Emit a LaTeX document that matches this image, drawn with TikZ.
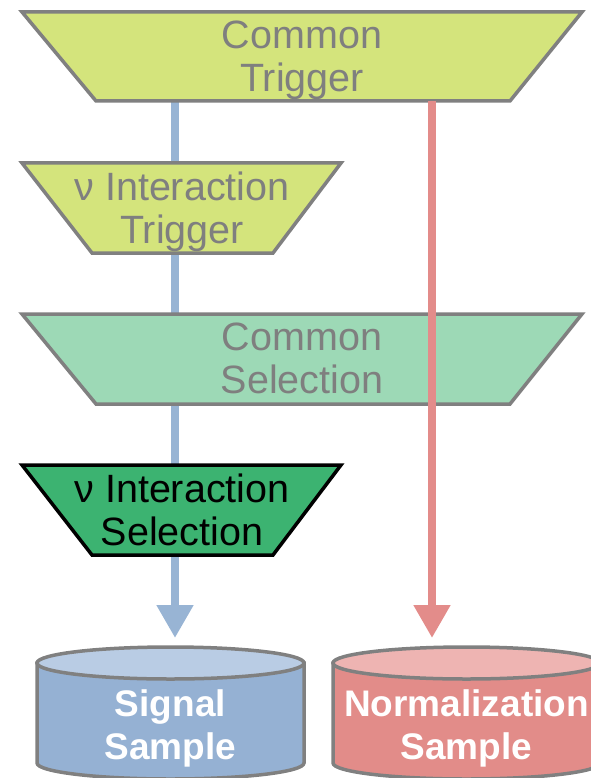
\documentclass[tikz,border=0pt]{standalone}
\usepackage{fontspec}
\setmainfont{Liberation Sans}
\usetikzlibrary{arrows.meta}

\definecolor{trigfill}{HTML}{D4E47C}
\definecolor{selfill}{HTML}{9DD9B6}
\definecolor{nuselfill}{HTML}{3CB371}
\definecolor{edgegray}{HTML}{808080}
\definecolor{textgray}{HTML}{7F7F7F}
\definecolor{sigline}{HTML}{98B4D4}
\definecolor{normline}{HTML}{E38C8A}
\definecolor{sigbody}{HTML}{95B1D3}
\definecolor{sigtop}{HTML}{B9CCE4}
\definecolor{normbody}{HTML}{E28C89}
\definecolor{normtop}{HTML}{EEB4B2}

\begin{document}
\begin{tikzpicture}[x=1pt,y=-1pt,
  stage/.style={draw=edgegray, line width=3.5pt, line join=miter},
  stagetext/.style={anchor=north, inner sep=0pt, align=center, text=textgray,
    font=\fontsize{39.5}{43}\selectfont},
  cyl/.style={draw=edgegray, line width=3.5pt},
  cyltext/.style={anchor=north, inner sep=0pt, align=center, text=white,
    font=\fontsize{37}{43}\selectfont\bfseries},
  flow/.style={line width=8pt, -{Triangle[width=35pt,length=33pt]}}]

\useasboundingbox (0,0) rectangle (590,778);

% connector end points
\coordinate (ctL) at (175,101);
\coordinate (ctR) at (432,101);
\coordinate (sigin) at (175,638);
\coordinate (normin) at (432,638);

% signal path runs behind the stages
\draw[flow, draw=sigline, fill=sigline] (ctL) -- (sigin);

% common trigger
\draw[stage, fill=trigfill] (22,12) -- (582,12) -- (510,101) -- (96,101) -- cycle;
\node[stagetext] (ct) at (302,21) {Common\\Trigger};

% neutrino interaction trigger
\draw[stage, fill=trigfill] (22,163) -- (341,163) -- (273,253) -- (92,253) -- cycle;
\node[stagetext] (it) at (182,172) {ν Interaction\\Trigger};

% common selection
\draw[stage, fill=selfill] (22,314) -- (582,314) -- (510,404) -- (96,404) -- cycle;
\node[stagetext] (cs) at (302,323) {Common\\Selection};

% neutrino interaction selection
\draw[stage, draw=black, fill=nuselfill] (22,465) -- (341,465) -- (273,555) -- (92,555) -- cycle;
\node[stagetext, text=black] (is) at (182,474) {ν Interaction\\Selection};

% normalization path runs over the stages
\draw[flow, draw=normline, fill=normline] (ctR) -- (normin);

% signal sample store
\draw[cyl, fill=sigbody] (37,663) -- (37,763)
  arc[x radius=133.5, y radius=16, start angle=180, end angle=0] -- (304,663) -- cycle;
\draw[cyl, fill=sigtop] (170.5,663) ellipse[x radius=133.5, y radius=16];
\node[cyltext] (sig) at (170.5,689) {Signal\\Sample};

% normalization sample store
\draw[cyl, fill=normbody] (333,663) -- (333,763)
  arc[x radius=133.5, y radius=16, start angle=180, end angle=0] -- (600,663) -- cycle;
\draw[cyl, fill=normtop] (466.5,663) ellipse[x radius=133.5, y radius=16];
\node[cyltext] (norm) at (466.5,689) {Normalization\\Sample};

\end{tikzpicture}
\end{document}
